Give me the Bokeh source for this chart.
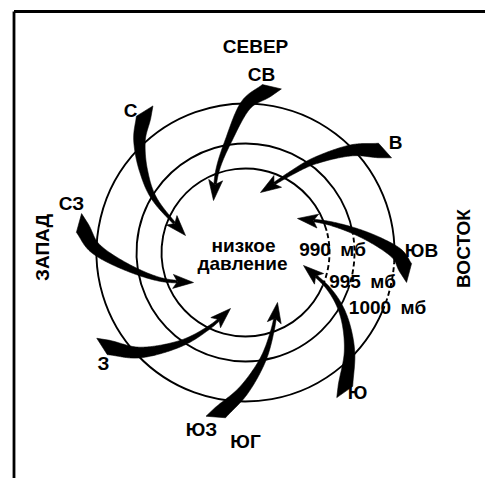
import numpy as np
from bokeh.plotting import figure
from bokeh.models import Range1d
from bokeh.core.properties import value
from bokeh.embed import file_html
from bokeh.resources import INLINE

# ---------------- data ----------------
# isobars (pressure in mb) and their radii around the low-pressure centre
ISOBAR_MB = [990, 995, 1000]
ISOBAR_RADIUS = [84, 109, 149]
ISOBAR_DASH_FROM_DEG = [-23, -20, -23]
ISOBAR_DASH_TO_DEG = [15, 10, -4]
ISOBAR_LABEL_X = [87, 117, 142]
ISOBAR_LABEL_Y = [3, -29, -55]

# wind arrows spiralling into the low (waypoints tail -> tip)
ARROW_NAMES = ["СВ", "С", "В", "ЮВ", "Ю", "ЮЗ", "З", "СЗ"]
ARROW_X = [
    [21, 0, -17, -28, -32],
    [-102, -106, -102, -90, -60],
    [133, 105, 70, 45, 15],
    [160, 150, 120, 85, 52],
    [100, 104, 98, 83, 58],
    [-25, -2, 17, 27, 32],
    [-137, -105, -65, -35, -15],
    [-163, -150, -120, -85, -52],
]
ARROW_Y = [
    [162, 147, 112, 82, 52],
    [135, 112, 82, 52, 17],
    [102, 102, 92, 79, 60],
    [-15, 0, 17, 29, 34],
    [-133, -98, -63, -36, -13],
    [-160, -138, -108, -78, -50],
    [-95, -100, -91, -74, -56],
    [24, 4, -14, -27, -30],
]

# direction labels
DIR_TEXT = ["СЕВЕР", "СВ", "С", "В", "СЗ", "ЮВ", "З", "Ю", "ЮЗ", "ЮГ"]
DIR_X = [10, 16, -115, 150, -174, 176, -142, 112, -44, 0]
DIR_Y = [206, 178, 142, 110, 49, 2, -111, -140, -177, -189]
SIDE_TEXT = ["ЗАПАД", "ВОСТОК"]
SIDE_X = [-203, 218]
SIDE_Y = [5, 4]
CENTER_TEXT = ["низкое", "давление"]
CENTER_X = [-2, -3]
CENTER_Y = [7, -11]

FONT = value("Liberation Sans")
FS = "19px"

# ---------------- figure ----------------
W, H = 485, 478
p = figure(width=W, height=H, output_backend="svg", toolbar_location=None,
           x_range=Range1d(-245, -245 + W), y_range=Range1d(252 - H, 252),
           min_border=0, outline_line_color=None)
p.axis.visible = False
p.grid.visible = False
p.background_fill_color = "white"
p.border_fill_color = "white"

# frame (top and left edges visible in the picture)
p.line(x=[-231.5, -231.5], y=[-300, 241], line_color="black", line_width=2.8)
p.line(x=[-231.5, 300], y=[241, 241], line_color="black", line_width=2.8)

# isobars: solid part + dashed part
for r, a0, a1 in zip(ISOBAR_RADIUS, ISOBAR_DASH_FROM_DEG, ISOBAR_DASH_TO_DEG):
    p.arc(x=0, y=0, radius=r, start_angle=np.radians(a1),
          end_angle=np.radians(a0) + 2 * np.pi, line_color="black", line_width=1.9)
    p.arc(x=0, y=0, radius=r, start_angle=np.radians(a0),
          end_angle=np.radians(a1), line_color="black", line_width=1.9,
          line_dash="5 3")


def catmull_rom(xs, ys, n=40):
    P = np.column_stack([xs, ys]).astype(float)
    P = np.vstack([2 * P[0] - P[1], P, 2 * P[-1] - P[-2]])
    out = []
    for i in range(1, len(P) - 2):
        p0, p1, p2, p3 = P[i - 1], P[i], P[i + 1], P[i + 2]
        t = np.linspace(0, 1, n, endpoint=False)[:, None]
        seg = 0.5 * (2 * p1 + (-p0 + p2) * t + (2 * p0 - 5 * p1 + 4 * p2 - p3) * t ** 2
                     + (-p0 + 3 * p1 - 3 * p2 + p3) * t ** 3)
        out.append(seg)
    out.append(P[-2][None, :])
    return np.vstack(out)


HEAD_LEN, HEAD_HW = 19.0, 7.0
W_TAIL, W_MIN = 14.5, 2.6

shaft_xs, shaft_ys, head_xs, head_ys = [], [], [], []
for xs, ys in zip(ARROW_X, ARROW_Y):
    pts = catmull_rom(xs, ys)
    d = np.diff(pts, axis=0)
    seglen = np.hypot(d[:, 0], d[:, 1])
    s = np.concatenate([[0], np.cumsum(seglen)])
    L = s[-1]
    tan = np.gradient(pts, axis=0)
    tan /= np.hypot(tan[:, 0], tan[:, 1])[:, None]
    nrm = np.column_stack([-tan[:, 1], tan[:, 0]])
    # shaft
    ls = L - HEAD_LEN + 3
    m = s <= ls
    sp, sn, ss = pts[m], nrm[m], s[m]
    u = ss / ls
    w = W_MIN + (W_TAIL - W_MIN) * (1 - u) ** 1.25
    left = sp + sn * (w[:, None] / 2)
    right = sp - sn * (w[:, None] / 2)
    # inner side of the curve gets a pointed, swept-back tail
    turn = tan[0, 0] * tan[-1, 1] - tan[0, 1] * tan[-1, 0]
    sign = 1.0 if turn > 0 else -1.0
    inner_tail = sp[0] + sign * sn[0] * W_TAIL / 2 - tan[0] * W_TAIL * 0.9
    if sign > 0:
        poly = np.vstack([inner_tail[None, :], left, right[::-1]])
    else:
        poly = np.vstack([left, right[::-1], inner_tail[None, :]])
    shaft_xs.append(list(poly[:, 0]))
    shaft_ys.append(list(poly[:, 1]))
    # head
    tip = pts[-1]
    te = tip - pts[np.searchsorted(s, L - HEAD_LEN)]
    te /= np.hypot(*te)
    ne = np.array([-te[1], te[0]])
    base = tip - te * HEAD_LEN
    c1 = base + ne * HEAD_HW - te * 1.5
    c2 = base - ne * HEAD_HW - te * 1.5
    notch = base + te * 3
    hp = np.vstack([tip, c1, notch, c2])
    head_xs.append(list(hp[:, 0]))
    head_ys.append(list(hp[:, 1]))

p.patches(xs=shaft_xs, ys=shaft_ys, fill_color="black", line_color="black", line_width=0.6)
p.patches(xs=head_xs, ys=head_ys, fill_color="black", line_color="black", line_width=0.6)

# texts
p.text(x=DIR_X, y=DIR_Y, text=DIR_TEXT, text_font=FONT, text_font_style="bold",
       text_font_size=FS, text_align="center", text_baseline="middle", text_color="black")
p.text(x=SIDE_X, y=SIDE_Y, text=SIDE_TEXT, text_font=FONT, text_font_style="bold",
       text_font_size=FS, text_align="center", text_baseline="middle",
       angle=np.pi / 2, text_color="black")
p.text(x=CENTER_X, y=CENTER_Y, text=CENTER_TEXT, text_font=FONT, text_font_style="bold",
       text_font_size=FS, text_align="center", text_baseline="middle", text_color="black")
iso_labels = [f"{v}\u2002мб" for v in ISOBAR_MB]
p.text(x=ISOBAR_LABEL_X, y=ISOBAR_LABEL_Y, text=iso_labels, text_font=FONT,
       text_font_style="bold", text_font_size=FS, text_align="center",
       text_baseline="middle", text_color="black")

open("out.html", "w").write(file_html(p, INLINE))
